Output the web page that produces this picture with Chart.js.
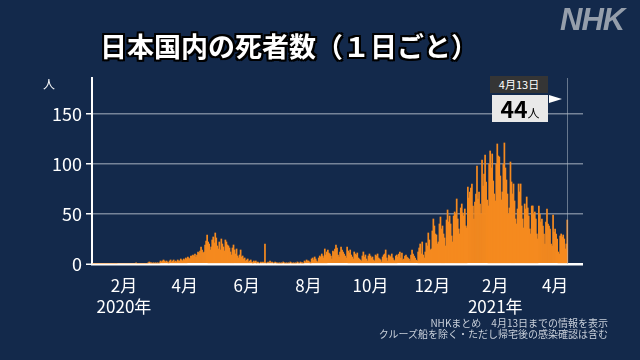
<!DOCTYPE html>
<html><head><meta charset="utf-8">
<script src="https://cdn.jsdelivr.net/npm/chart.js@4"></script>
<style>
html,body{margin:0;padding:0;background:#13294b;width:640px;height:360px;overflow:hidden;}
#wrap{position:relative;width:640px;height:360px;font-family:"Noto Sans CJK JP","Noto Sans",sans-serif;}
canvas{position:absolute;left:0;top:0;}
.abs{position:absolute;white-space:nowrap;}
#title{left:100px;top:28px;font-size:27px;font-weight:700;color:#fff;line-height:36px;
 text-shadow:0 0 2px #000,2px 0 0 #000,-2px 0 0 #000,0 2px 0 #000,0 -2px 0 #000,2px 2px 0 #000,-2px -2px 0 #000,2px -2px 0 #000,-2px 2px 0 #000;}
#logo{left:560px;top:2px;font-family:"Liberation Sans",Arial,sans-serif;font-size:31px;font-weight:700;font-style:italic;color:#959eab;letter-spacing:-1px;}
#unit{left:43px;top:75px;font-size:12px;color:#fff;}
#foot{right:32px;top:317px;font-size:10px;line-height:11px;color:#c9d0da;text-align:right;}
#datebox{left:490px;top:76px;width:58px;height:17px;background:#353535;color:#fff;font-size:11px;line-height:17px;text-align:center;}
#valbox{left:492px;top:95px;width:56px;height:27px;background:#e9e9e9;color:#000;text-align:center;line-height:27px;}
#valbox b{font-size:23px;font-weight:700;}
#valbox span{font-size:12px;}
#flag{left:549px;top:95px;width:0;height:0;border-left:13px solid #fff;border-top:4.5px solid transparent;border-bottom:4.5px solid transparent;}
</style></head>
<body><div id="wrap">
<canvas id="c" width="640" height="360"></canvas>
<div class="abs" id="title">日本国内の死者数（１日ごと）</div>
<div class="abs" id="logo">NHK</div>
<div class="abs" id="unit">人</div>
<div class="abs" id="foot">NHKまとめ　4月13日までの情報を表示<br>クルーズ船を除く・ただし帰宅後の感染確認は含む</div>
<div class="abs" id="datebox">4月13日</div>
<div class="abs" id="valbox"><b id="lastval"></b><span>人</span></div>
<div class="abs" id="flag"></div>
</div>
<script>
// axis range (categories): one per day
const startDate = '2020-01-01';
const endDate = '2021-04-28';
// x tick labels
const tickDates = ['2020-02-01','2020-04-01','2020-06-01','2020-08-01','2020-10-01','2020-12-01','2021-02-01','2021-04-01'];
const tickTexts = [['2月','2020年'],'4月','6月','8月','10月','12月',['2月','2021年'],'4月'];
const yTicks = [0,50,100,150];
// daily deaths, by month
const jan2020 = [0,0,0,0,0,0,0,0,0,0,0,0,0,0,0,0,0,0,0,0,0,0,0,0,0,0,0,0,0,0,0];
const feb2020 = [0,0,0,0,0,0,0,0,0,0,0,0,1,0,0,0,0,0,0,0,0,0,0,0,1,2,1,1,0];
const mar2020 = [1,0,1,0,1,0,1,3,2,3,4,3,2,3,2,1,3,4,2,3,4,2,3,2,4,3,3,5,4,3,5];
const apr2020 = [4,6,5,7,6,5,8,8,9,8,10,7,9,12,11,13,17,14,11,12,19,23,29,22,20,14,17,24,27,21];
const may2020 = [31,26,18,15,22,14,25,20,17,13,24,22,19,18,16,12,9,16,19,14,10,15,8,6,9,14,7,8,5,6,3];
const jun2020 = [4,5,2,3,4,2,1,3,2,3,1,2,1,0,2,1,2,1,20,1,0,2,1,3,1,2,1,0,2,1];
const jul2020 = [1,0,1,0,1,0,2,1,0,1,0,1,0,2,1,0,1,0,1,0,2,1,0,2,1,1,0,3,2,4,3];
const aug2020 = [3,2,1,5,6,4,7,5,3,2,6,8,7,10,8,6,15,9,12,14,11,10,8,5,13,12,15,19,16,9,7];
const sep2020 = [12,17,14,12,10,8,6,17,13,11,14,9,7,5,12,10,9,11,6,5,4,3,8,12,7,9,5,3,8,10];
const oct2020 = [8,6,7,4,3,9,8,10,6,5,4,2,7,9,10,14,6,3,9,8,7,10,6,4,3,8,9,7,10,12,6];
const nov2020 = [11,4,5,8,9,7,6,5,3,9,14,10,8,6,4,3,12,16,20,10,22,9,6,12,21,18,31,24,14,15];
const dec2020 = [33,45,38,30,29,20,22,40,47,35,38,30,26,18,44,54,42,48,40,28,22,48,52,50,65,45,35,30,56,60,51];
const jan2021 = [48,55,38,36,77,66,72,76,80,58,45,62,70,98,65,72,60,50,104,78,90,109,82,64,58,100,113,96,110,83,70];
const feb2021 = [63,100,120,108,107,88,64,72,100,121,96,84,70,50,56,102,82,70,80,63,45,40,55,80,72,80,58,45];
const mar2021 = [36,60,55,67,56,48,35,30,58,58,50,52,45,30,25,58,50,42,45,38,30,20,42,55,40,38,35,20,18,49,32];
const apr2021 = [35,30,25,12,10,28,30,27,29,25,15,20,44];

const deaths = [].concat(jan2020,feb2020,mar2020,apr2020,may2020,jun2020,jul2020,aug2020,sep2020,oct2020,nov2020,dec2020,jan2021,feb2021,mar2021,apr2021);

const labels = [];
for (let t = Date.parse(startDate+'T00:00:00Z'); t <= Date.parse(endDate+'T00:00:00Z'); t += 86400000) {
  labels.push(new Date(t).toISOString().slice(0,10));
}
const lastIdx = deaths.length - 1;
document.getElementById('lastval').textContent = deaths[lastIdx];

const markerLine = {
  id:'markerLine',
  afterDatasetsDraw(chart){
    const x = Math.round(chart.scales.x.getPixelForValue(lastIdx)) + 0.5;
    const ctx = chart.ctx; const a = chart.chartArea;
    ctx.save();
    ctx.strokeStyle = 'rgba(175,185,198,0.55)';
    ctx.lineWidth = 1;
    ctx.beginPath(); ctx.moveTo(x, a.top); ctx.lineTo(x, a.bottom); ctx.stroke();
    ctx.restore();
  }
};

new Chart(document.getElementById('c'), {
  type:'bar',
  data:{labels:labels, datasets:[{data:deaths, backgroundColor:'#f58a1f', borderWidth:0, barPercentage:1, categoryPercentage:1, inflateAmount:0.35}]},
  options:{
    responsive:false, animation:false, devicePixelRatio:1,
    layout:{padding:{top:78,right:57,bottom:0,left:0}},
    plugins:{legend:{display:false}, tooltip:{enabled:false}},
    scales:{
      x:{
        grid:{display:false, drawTicks:false}, border:{display:false},
        ticks:{autoSkip:false, maxRotation:0, minRotation:0, padding:11, color:'#ffffff',
          font:{family:'"Noto Sans CJK JP", sans-serif', size:17, lineHeight:1.25},
          callback:function(v,i){ const k = tickDates.indexOf(labels[i]); return k>=0 ? tickTexts[k] : ''; }},
        afterFit:function(s){ s.height = 96; }
      },
      y:{
        z:1, min:0, max:186,
        afterBuildTicks:function(s){ s.ticks = yTicks.map(v=>({value:v})); },
        grid:{color:function(c){ return c.tick && c.tick.value===0 ? '#ffffff' : 'rgba(185,193,205,0.6)'; },
              lineWidth:function(c){ return c.tick && c.tick.value===0 ? 2.5 : 1.5; },
              tickLength:6, tickColor:'#ffffff', tickWidth:1.5},
        border:{display:true, color:'#ffffff', width:2},
        ticks:{color:'#ffffff', padding:4, font:{family:'"Noto Sans CJK JP", sans-serif', size:18}},
        afterFit:function(s){ s.width = 92; }
      }
    }
  },
  plugins:[markerLine]
});
</script>
</body></html>
